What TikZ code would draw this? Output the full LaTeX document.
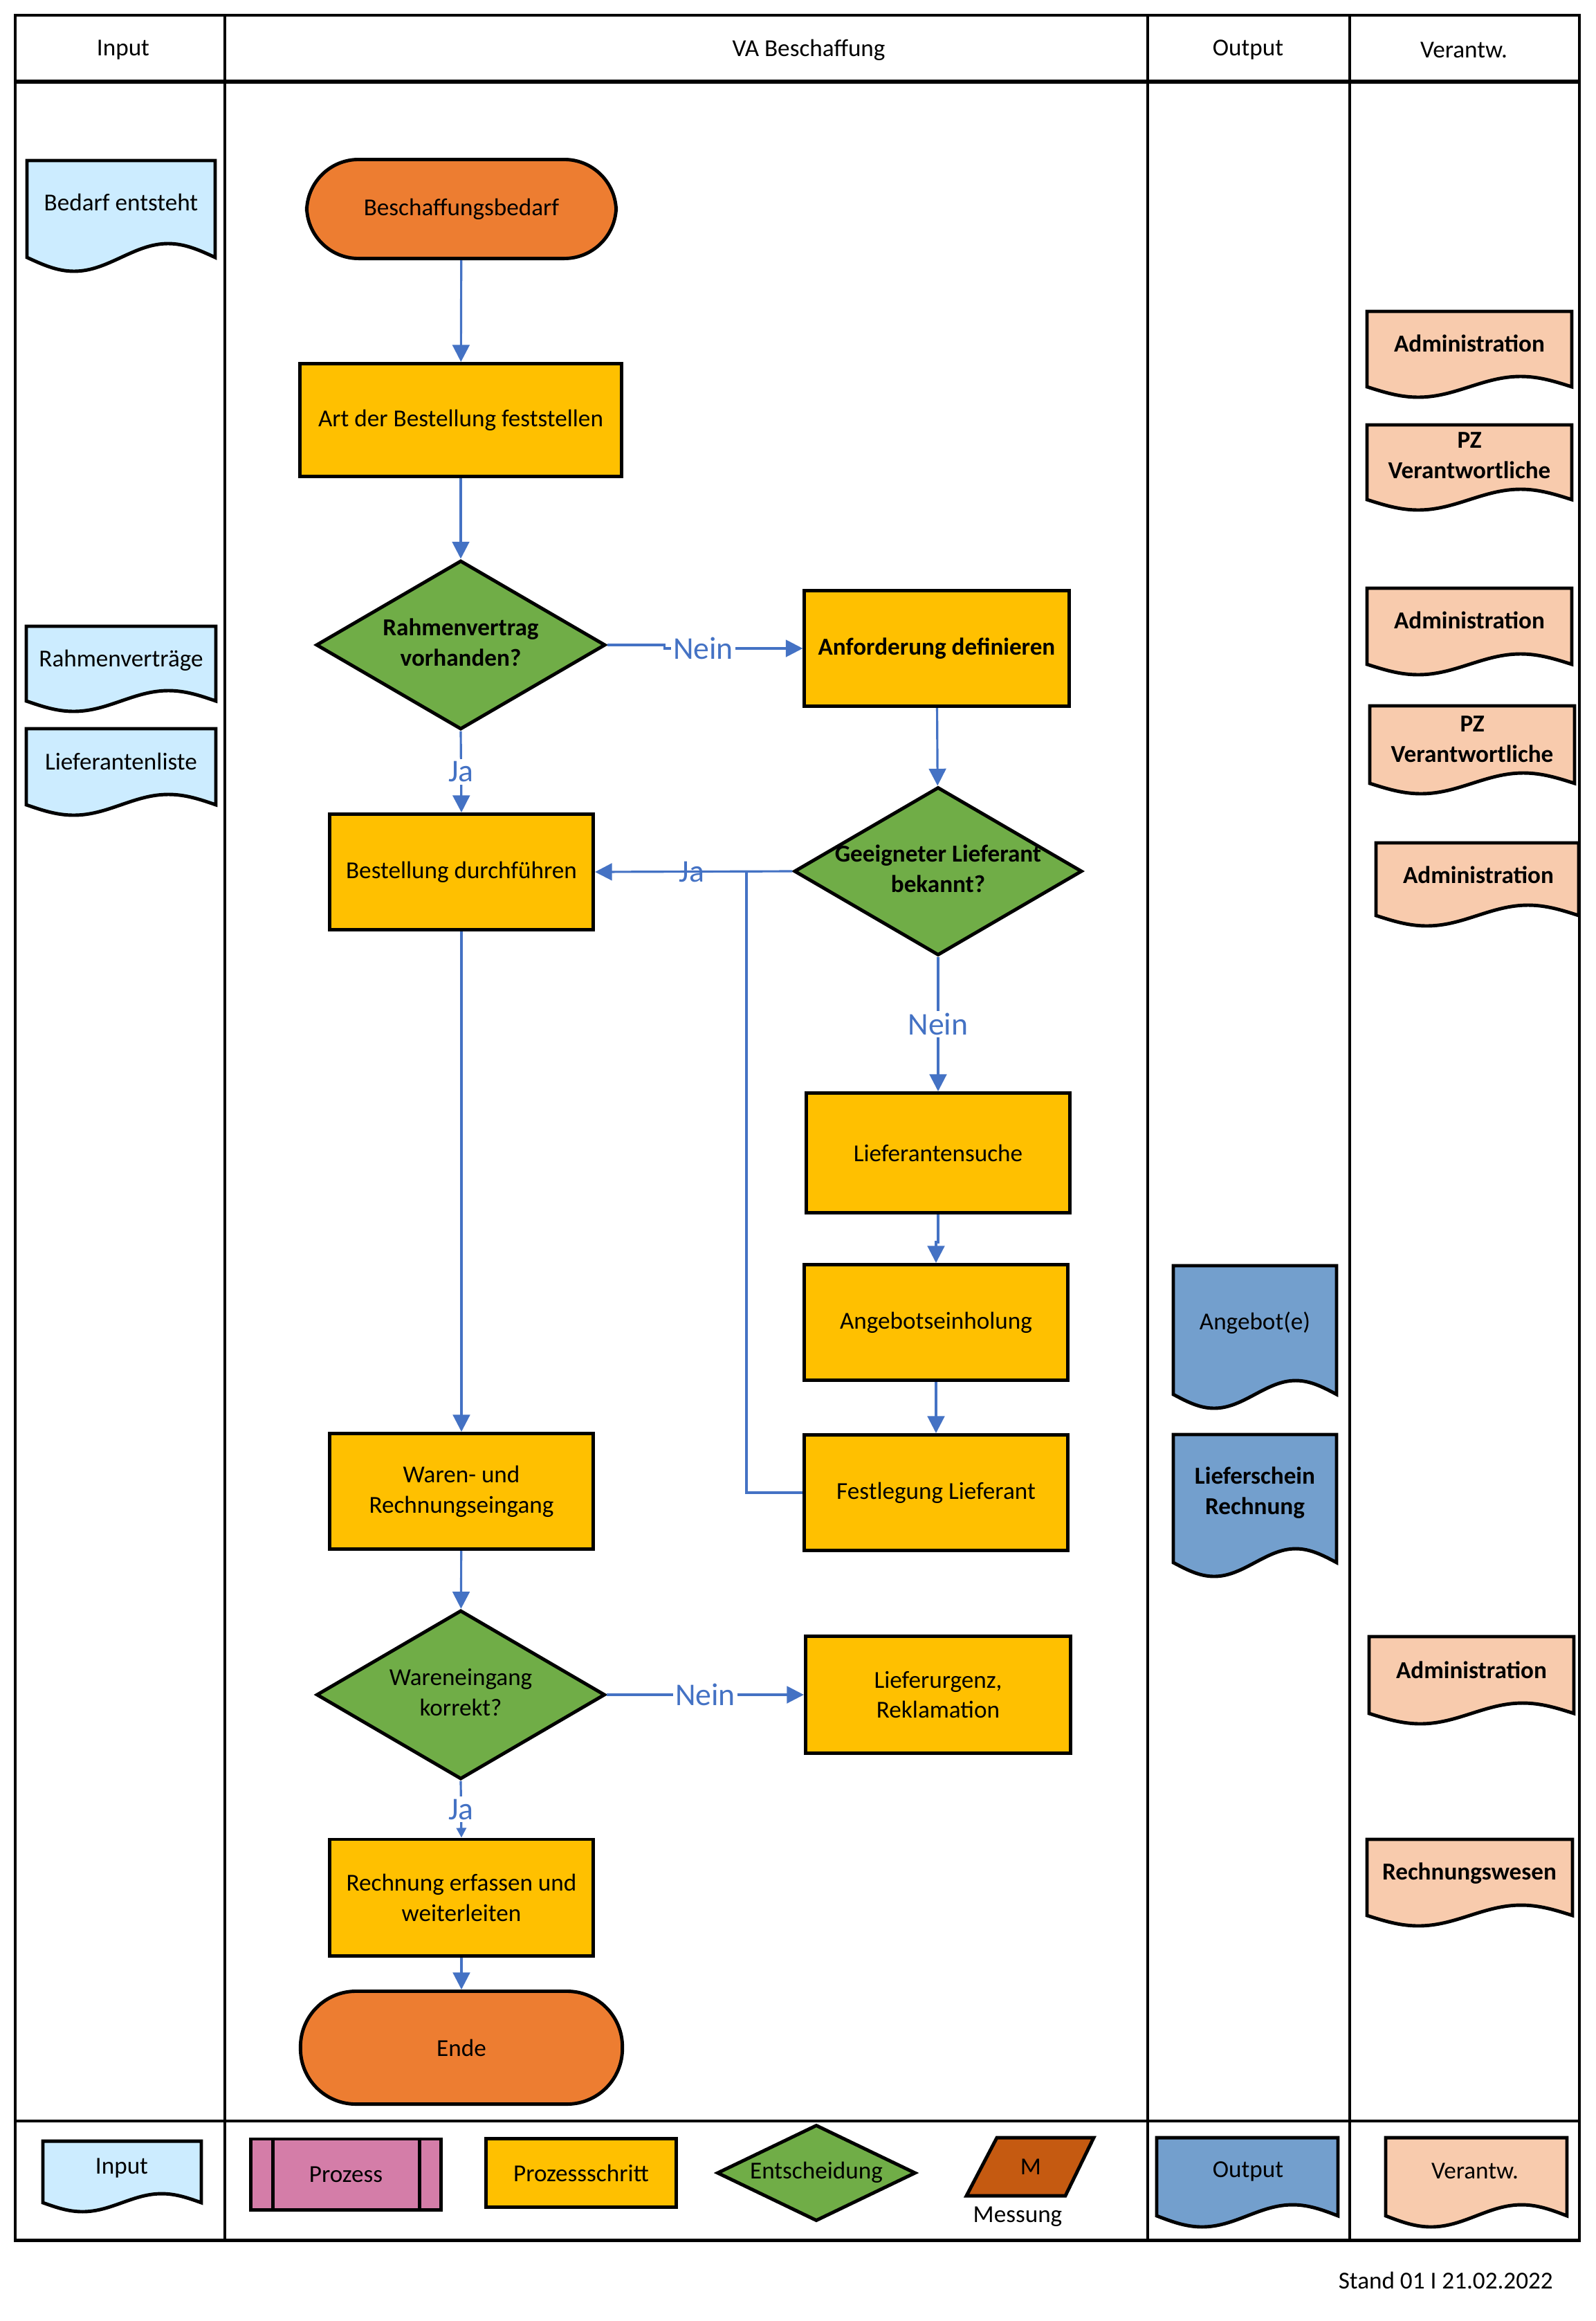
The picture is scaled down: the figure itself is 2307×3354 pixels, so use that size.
\documentclass[tikz,border=0pt]{standalone}
\usepackage{fontspec}
\setmainfont{Carlito}
\usetikzlibrary{arrows.meta,shapes.geometric,calc}
\definecolor{inblue}{HTML}{CCECFF}
\definecolor{termor}{HTML}{ED7D31}
\definecolor{procy}{HTML}{FFC000}
\definecolor{decg}{HTML}{70AD47}
\definecolor{outb}{HTML}{739FCD}
\definecolor{resp}{HTML}{F8CBAD}
\definecolor{prozp}{HTML}{D47DA8}
\definecolor{messo}{HTML}{C55A11}
\definecolor{arrb}{HTML}{4472C4}
\newcommand{\docbox}[6]{%
  \draw[shapeline,fill=#6] (#1,#2) -- (#1,#4) sin ({#1+(#3-#1)/4},{#4+#5}) cos ({(#1+#3)/2},#4) sin ({#1+3*(#3-#1)/4},{#4-#5}) cos (#3,#4) -- (#3,#2) -- cycle;}
\newcommand{\zw}[1]{\makebox[0pt][c]{\begin{tabular}{@{}c@{}}#1\end{tabular}}}
\tikzset{
  every node/.style={font=\fontsize{10}{12.5}\selectfont},
  frameline/.style={draw=black,line width=1.4pt},
  shapeline/.style={draw=black,line width=1.4pt},
  procbox/.style={shapeline,fill=procy,rectangle,align=center,inner sep=2pt},
  termbox/.style={shapeline,fill=termor,rectangle,rounded corners=0.75cm,align=center},
  decbox/.style={shapeline,fill=decg,diamond,inner sep=0pt,align=center},
  txt/.style={align=center,inner sep=1pt},
  btxt/.style={align=center,inner sep=1pt,font=\fontsize{10}{12.5}\selectfont\bfseries},
  flow/.style={draw=arrb,line width=0.9pt,-{Triangle[length=7pt,width=7pt]}},
  flowsmall/.style={draw=arrb,line width=0.9pt,-{Triangle[length=4pt,width=4pt]}},
  plainflow/.style={draw=arrb,line width=0.9pt},
  lbl/.style={font=\fontsize{13}{15}\selectfont,text=arrb,fill=white,inner sep=1pt},
  lblclear/.style={font=\fontsize{13}{15}\selectfont,text=arrb,inner sep=1pt},
}
\begin{document}
\begin{tikzpicture}[x=0.01cm,y=-0.01cm]
\useasboundingbox (0,0) rectangle (2307,3354);
% frame
\draw[frameline] (22,22) rectangle (2283,3237);
\draw[frameline] (325,22) -- (325,3237);
\draw[frameline] (1659,22) -- (1659,3237);
\draw[frameline] (1951,22) -- (1951,3237);
\draw[draw=black,line width=1.6pt] (22,118) -- (2283,118);
\draw[frameline] (22,3065) -- (2283,3065);
% headers
\node[txt] (hin) at (178,72) {Input};
\node[txt] (hva) at (1169,72) {VA Beschaffung};
\node[txt] (hout) at (1804,72) {Output};
\node[txt] (hver) at (2116,72) {Verantw.};
% input column
\docbox{39}{232}{311}{372}{20}{inblue}
\node[txt] (in1) at (175,292) {Bedarf entsteht};
\docbox{38}{905}{312}{1013}{15}{inblue}
\node[txt] (in2) at (175,954) {Rahmenverträge};
\docbox{38}{1053}{312}{1163}{15}{inblue}
\node[txt] (in3) at (175,1100) {Lieferantenliste};
% main flow
\node[termbox,minimum width=4.47cm,minimum height=1.43cm] (bb) at (667,302) {Beschaffungsbedarf};
\node[procbox,minimum width=4.64cm,minimum height=1.63cm] (art) at (666,607) {Art der Bestellung feststellen};
\node[decbox,minimum width=4.18cm,minimum height=2.44cm] (rv) at (666,932) {\zw{\bfseries Rahmenvertrag\\\bfseries vorhanden?}};
\node[procbox,minimum width=3.82cm,minimum height=1.67cm,font=\fontsize{10}{12.5}\selectfont\bfseries] (an) at (1354,937) {Anforderung definieren};
\node[decbox,minimum width=4.16cm,minimum height=2.43cm] (gl) at (1356,1259) {\zw{\bfseries Geeigneter Lieferant\\\bfseries bekannt?}};
\node[procbox,minimum width=3.81cm,minimum height=1.67cm] (bd) at (667,1260) {Bestellung durchführen};
\node[procbox,minimum width=3.81cm,minimum height=1.73cm] (ls) at (1356,1666) {Lieferantensuche};
\node[procbox,minimum width=3.80cm,minimum height=1.67cm] (ag) at (1353,1911) {Angebotseinholung};
\node[procbox,minimum width=3.80cm,minimum height=1.67cm] (fl) at (1353,2157) {Festlegung Lieferant};
\node[procbox,minimum width=3.80cm,minimum height=1.67cm] (wr) at (667,2155) {Waren- und\\Rechnungseingang};
\node[decbox,minimum width=4.17cm,minimum height=2.44cm] (we) at (666,2449) {\zw{Wareneingang\\korrekt?}};
\node[procbox,minimum width=3.83cm,minimum height=1.69cm] (lr) at (1356,2449) {Lieferurgenz,\\Reklamation};
\node[procbox,minimum width=3.81cm,minimum height=1.68cm] (re) at (667,2742) {Rechnung erfassen und\\weiterleiten};
\node[termbox,minimum width=4.65cm,minimum height=1.63cm,rounded corners=0.8cm] (en) at (667,2959) {Ende};
% connectors
\draw[flow] (bb) -- (art);
\draw[flow] (art) -- (rv);
\draw[flow] (rv.east) -- ++(83,0) -- ++(0,5) -- node[lbl,pos=0.28]{Nein} (an.west);
\draw[flow] (rv.south) -- node[lbl]{Ja} (bd.north);
\draw[flow] (an) -- (gl);
\draw[flow] (gl.west) -- node[lblclear,pos=0.51]{Ja} (bd.east);
\coordinate (jn) at (1079,1259);
\draw[plainflow] (fl.west) -| (jn);
\draw[flow] (gl.south) -- node[lbl]{Nein} (ls.north);
\draw[flow] (ls.south) -- ++(0,40) -| (ag.north);
\draw[flow] (ag) -- (fl);
\draw[flow] (bd) -- (wr);
\draw[flow] (wr) -- (we);
\draw[flow] (we.east) -- node[lbl]{Nein} (lr.west);
\draw[flowsmall] (we.south) -- node[lbl]{Ja} (re.north);
\draw[flow] (re) -- (en);
% output column
\docbox{1696}{1829}{1932}{2015}{20}{outb}
\node[txt] (o1) at (1814,1912) {Angebot(e)};
\docbox{1696}{2073}{1932}{2258}{20}{outb}
\node[btxt] (o2) at (1814,2157) {Lieferschein\\Rechnung};
% responsibility column
\docbox{1976}{450}{2272}{559}{15}{resp}
\node[btxt] (v1) at (2124,496) {Administration};
\docbox{1976}{614}{2272}{722}{15}{resp}
\node[btxt] (v2) at (2124,658) {PZ\\Verantwortliche};
\docbox{1976}{850}{2272}{960}{15}{resp}
\node[btxt] (v3) at (2124,896) {Administration};
\docbox{1980}{1020}{2276}{1132}{15}{resp}
\node[btxt] (v4) at (2128,1068) {PZ\\Verantwortliche};
\docbox{1989}{1218}{2282}{1323}{15}{resp}
\node[btxt] (v5) at (2137,1264) {Administration};
\docbox{1979}{2365}{2275}{2476}{15}{resp}
\node[btxt] (v6) at (2127,2413) {Administration};
\docbox{1976}{2658}{2273}{2768}{15}{resp}
\node[btxt] (v7) at (2124,2707) {Rechnungswesen};
% legend
\docbox{62}{3094}{291}{3183}{13}{inblue}
\node[txt] (lin) at (176,3133) {Input};
\node[shapeline,fill=prozp,rectangle,minimum width=2.74cm,minimum height=1.02cm] (lpz) at (500,3142) {Prozess};
\draw[shapeline] ($(lpz.north west)+(34,0)$) -- ($(lpz.south west)+(34,0)$);
\draw[shapeline] ($(lpz.north east)+(-33,0)$) -- ($(lpz.south east)+(-33,0)$);
\node[procbox,minimum width=2.75cm,minimum height=0.99cm] (lps) at (840,3140) {Prozessschritt};
\node[decbox,minimum width=2.87cm,minimum height=1.39cm] (lent) at (1180,3140) {\zw{Entscheidung}};
\draw[shapeline,fill=messo] (1441,3089) -- (1581,3089) -- (1540,3173) -- (1397,3173) -- cycle;
\node[txt] (lm) at (1490,3131) {M};
\node[txt] (lmess) at (1471,3203) {Messung};
\docbox{1672}{3089}{1934}{3202}{16}{outb}
\node[txt] (lout) at (1804,3138) {Output};
\docbox{2003}{3089}{2265}{3202}{16}{resp}
\node[txt] (lver) at (2132,3137) {Verantw.};
% footer
\node[txt,anchor=east] (stand) at (2249,3295) {Stand 01 I 21.02.2022};
\end{tikzpicture}
\end{document}
